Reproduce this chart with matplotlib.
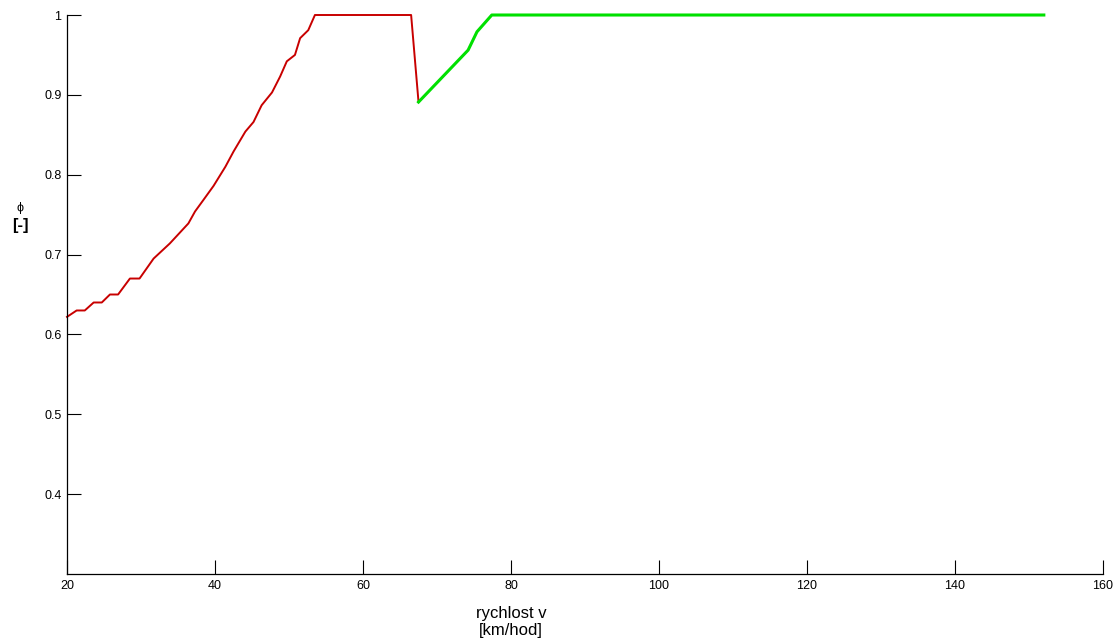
import matplotlib.pyplot as plt

# rychlost [km/hod] a součinitel phi [-]
v_red = [20.0, 21.3, 22.4, 23.6, 24.7, 25.8, 26.9, 28.5, 29.8, 31.7, 33.9, 36.4,
         37.3, 38.4, 39.8, 41.4, 42.5, 44.1, 45.2, 46.3, 47.7, 48.8, 49.7, 50.8,
         51.5, 52.6, 53.5, 66.5, 67.5]
phi_red = [0.622, 0.63, 0.63, 0.64, 0.64, 0.65, 0.65, 0.67, 0.67, 0.695, 0.714,
           0.739, 0.754, 0.768, 0.786, 0.81, 0.829, 0.854, 0.866, 0.887, 0.903,
           0.923, 0.942, 0.95, 0.971, 0.981, 1.0, 1.0, 0.891]

v_green = [67.5, 74.2, 75.4, 77.4, 152.0]
phi_green = [0.891, 0.956, 0.979, 1.00, 1.00]

xticks = [20, 40, 60, 80, 100, 120, 140, 160]
yticks = [0.4, 0.5, 0.6, 0.7, 0.8, 0.9, 1.0]

plt.rcParams['font.family'] = ['Liberation Sans', 'DejaVu Sans']

fig = plt.figure(figsize=(11.17, 6.44), dpi=100)
ax = fig.add_axes([0.060, 0.1087, 0.9275, 0.868])

# čáry na phi = 1 leží přesně na horní hraně os, proto bez ořezu
ax.plot(v_red, phi_red, color='#c80000', linewidth=1.4, clip_on=False)
ax.plot(v_green, phi_green, color='#00e000', linewidth=2.2, clip_on=False)

ax.set_xlim(20, 160)
ax.set_ylim(0.3, 1.0)
ax.set_xticks(xticks)
ax.set_xticklabels([str(t) for t in xticks])
ax.set_yticks(yticks)
ax.set_yticklabels(['0.4', '0.5', '0.6', '0.7', '0.8', '0.9', '1'])
ax.tick_params(direction='in', length=10, width=0.8, labelsize=9, pad=4)

ax.spines['top'].set_visible(False)
ax.spines['right'].set_visible(False)
for s in ('left', 'bottom'):
    ax.spines[s].set_linewidth(0.9)

ax.text(80, -0.058, 'rychlost v\n[km/hod]', transform=ax.get_xaxis_transform(),
        ha='center', va='top', fontsize=12, linespacing=1.1)
fig.text(20 / 1117, 1 - 208 / 644, '\u03d5', ha='center', va='center', fontsize=9)
fig.text(20 / 1117, 1 - 226 / 644, '[-]', ha='center', va='center', fontsize=12,
         fontweight='bold')

fig.savefig('out.png', dpi=100)
